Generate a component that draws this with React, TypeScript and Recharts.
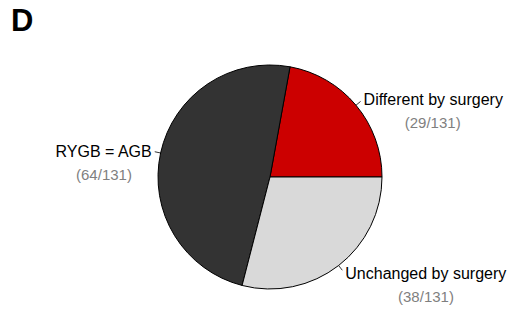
import { PieChart, Pie, Cell } from 'recharts';

const names = ['Different by surgery', 'RYGB = AGB', 'Unchanged by surgery'];
const counts = [29, 64, 38];
const total = 131;
const colors = ['#CC0000', '#333333', '#D9D9D9'];

const data = names.map((name, i) => ({ name, value: counts[i] }));

const RADIAN = Math.PI / 180;
const FONT = '"Liberation Sans", Arial, Helvetica, sans-serif';

// rough Arial advance widths, used to centre the fraction under the label
const charW = (c: string) => {
  if ('DGABRYU'.includes(c)) return 0.69;
  if ('ifjlt'.includes(c)) return 0.25;
  if ('r'.includes(c)) return 0.333;
  if (' '.includes(c)) return 0.278;
  if ('='.includes(c)) return 0.584;
  if ('sy'.includes(c)) return 0.5;
  return 0.556;
};

const renderLabel = (props: any) => {
  const { cx, cy, midAngle, outerRadius, name, value } = props;
  const cos = Math.cos(-midAngle * RADIAN);
  const sin = Math.sin(-midAngle * RADIAN);
  const sx = cx + outerRadius * cos;
  const sy = cy + outerRadius * sin;
  const ex = cx + (outerRadius + 6) * cos;
  const ey = cy + (outerRadius + 6) * sin;
  const right = cos >= 0;
  const tx = ex + (right ? 3 : -3);
  const base = ey + 4 * sin + 5.7;
  const anchor = right ? 'start' : 'end';
  const w = name.split('').reduce((a: number, c: string) => a + charW(c), 0) * 16;
  const fx = right ? tx + w / 2 : tx - w / 2;
  return (
    <g>
      <line x1={sx} y1={sy} x2={ex} y2={ey} stroke="#000" strokeWidth={0.8} />
      <text x={tx} y={base} textAnchor={anchor} fontSize={16} fill="#000" fontFamily={FONT}>
        {name}
      </text>
      <text x={fx} y={base + 23} textAnchor="middle" fontSize={15} fill="#7f7f7f" fontFamily={FONT}>
        ({value}/{total})
      </text>
    </g>
  );
};

export default function App() {
  return (
    <div style={{ position: 'absolute', left: 0, top: 0, width: 507, height: 309, background: '#fff' }}>
      <div style={{ position: 'absolute', left: 11, top: 3, fontFamily: FONT, fontWeight: 'bold', fontSize: 31, lineHeight: '36px' }}>
        D
      </div>
      <PieChart width={507} height={309} margin={{ top: 0, right: 0, bottom: 0, left: 0 }}>
        <Pie
          data={data}
          dataKey="value"
          nameKey="name"
          cx={270}
          cy={177}
          outerRadius={112}
          startAngle={0}
          endAngle={360}
          stroke="#000"
          strokeWidth={1}
          label={renderLabel}
          labelLine={false}
          isAnimationActive={false}
        >
          {data.map((d, i) => (
            <Cell key={d.name} fill={colors[i]} />
          ))}
        </Pie>
      </PieChart>
    </div>
  );
}
